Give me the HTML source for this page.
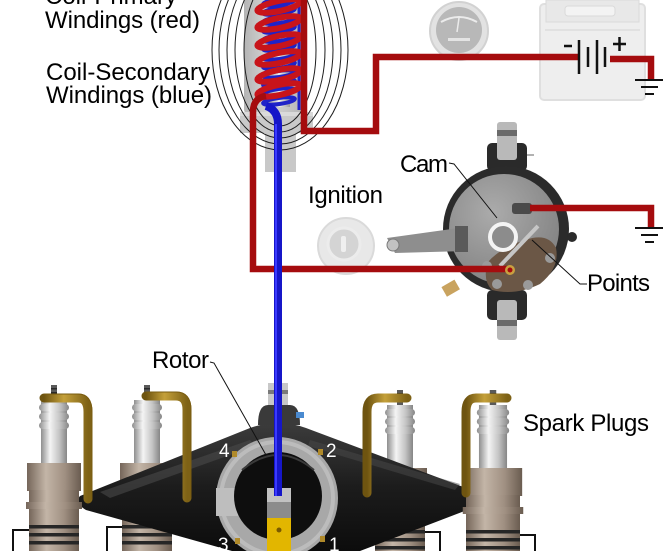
<!DOCTYPE html>
<html><head><meta charset="utf-8"><style>
html,body{margin:0;padding:0;background:#fff;}
svg{display:block;}
text{font-family:"Liberation Sans",Arial,sans-serif;}
</style></head><body>
<svg width="664" height="551" viewBox="0 0 664 551" xmlns="http://www.w3.org/2000/svg">
<defs>
<linearGradient id="insul" x1="0" x2="1" y1="0" y2="0">
<stop offset="0" stop-color="#8e8e8e"/><stop offset="0.35" stop-color="#f4f4f4"/><stop offset="0.7" stop-color="#c4c4c4"/><stop offset="1" stop-color="#868686"/></linearGradient>
<linearGradient id="brown" x1="0" x2="1" y1="0" y2="0">
<stop offset="0" stop-color="#75665a"/><stop offset="0.35" stop-color="#c3b5a7"/><stop offset="0.7" stop-color="#a09082"/><stop offset="1" stop-color="#6a5c50"/></linearGradient>
<linearGradient id="brass" x1="0" x2="1" y1="0" y2="0">
<stop offset="0" stop-color="#6e5410"/><stop offset="0.45" stop-color="#c4a03a"/><stop offset="1" stop-color="#7e6216"/></linearGradient>
<linearGradient id="cap" x1="0" x2="0" y1="0" y2="1">
<stop offset="0" stop-color="#3c3c3c"/><stop offset="0.5" stop-color="#1c1c1c"/><stop offset="1" stop-color="#0c0c0c"/></linearGradient>
<linearGradient id="coilg" x1="0" x2="1" y1="0" y2="0">
<stop offset="0" stop-color="#b4b4b4"/><stop offset="0.4" stop-color="#d6d6d6"/><stop offset="1" stop-color="#b4b4b4"/></linearGradient>
<linearGradient id="core" x1="0" x2="1" y1="0" y2="0">
<stop offset="0" stop-color="#9a9a9a"/><stop offset="0.5" stop-color="#eeeeee"/><stop offset="1" stop-color="#9a9a9a"/></linearGradient>
<radialGradient id="plate" cx="0.4" cy="0.35" r="0.7">
<stop offset="0" stop-color="#ababab"/><stop offset="1" stop-color="#828282"/></radialGradient>
<g id="plug">
<rect x="-3" y="0" width="6" height="16" fill="#5a5a5a"/>
<rect x="-3" y="3" width="6" height="1.5" fill="#2a2a2a"/><rect x="-3" y="7" width="6" height="1.5" fill="#2a2a2a"/><rect x="-3" y="11" width="6" height="1.5" fill="#2a2a2a"/>
<rect x="-13" y="15" width="26" height="64" fill="url(#insul)"/>
<rect x="-15" y="19" width="30" height="7" rx="3.5" fill="url(#insul)"/>
<rect x="-15" y="28" width="30" height="7" rx="3.5" fill="url(#insul)"/>
<rect x="-15" y="37" width="30" height="7" rx="3.5" fill="url(#insul)"/>
<rect x="-27" y="78" width="54" height="28" fill="url(#brown)"/>
<rect x="-25" y="105" width="50" height="31" fill="url(#brown)"/>
<rect x="-28" y="117" width="56" height="7" fill="url(#brown)"/>
<rect x="-25" y="135" width="50" height="35" fill="url(#brown)"/>
<rect x="-25" y="140" width="50" height="3.5" fill="#262626"/>
<rect x="-25" y="148" width="50" height="3.5" fill="#262626"/>
<rect x="-25" y="156" width="50" height="3.5" fill="#262626"/>
</g>
</defs>

<!-- faded battery -->
<g opacity="0.85">
<rect x="540" y="4" width="105" height="96" rx="4" fill="#ececec" stroke="#dadada" stroke-width="2"/>
<rect x="546" y="0" width="93" height="22" fill="#e4e4e4" stroke="#d4d4d4"/>
<rect x="565" y="6" width="50" height="10" rx="3" fill="#f2f2f2" stroke="#d4d4d4"/>
<line x1="545" y1="30" x2="640" y2="30" stroke="#dcdcdc" stroke-width="2"/>
</g>
<!-- faded ammeter -->
<circle cx="459" cy="31" r="29" fill="#e2e2e2" stroke="#d2d2d2" stroke-width="2"/>
<circle cx="459" cy="30" r="23" fill="#b8b8b8"/>
<path d="M441 22 Q459 12 477 22" fill="none" stroke="#ebebeb" stroke-width="2"/>
<line x1="459" y1="18" x2="457" y2="32" stroke="#ebebeb" stroke-width="1.5"/>
<rect x="448" y="38" width="22" height="3" fill="#e4e4e4"/>
<!-- faded ignition switch -->
<circle cx="346" cy="246" r="28" fill="#e8e8e8" stroke="#dadada" stroke-width="2"/>
<circle cx="344" cy="244" r="16" fill="#d4d4d4" stroke="#ececec" stroke-width="3"/>
<rect x="341" y="236" width="5" height="16" rx="2" fill="#efefef"/>

<!-- coil body -->
<rect x="244" y="-5" width="62" height="120" rx="6" fill="url(#coilg)"/>
<rect x="240" y="112" width="73" height="21" fill="#c9c9c9"/>
<rect x="240" y="112" width="73" height="4" fill="#dadada"/>
<rect x="265" y="132" width="31" height="40" fill="#c8c8c8"/>
<rect x="268" y="-5" width="22" height="112" fill="url(#core)"/>

<!-- field lines -->
<g fill="none" stroke="#1e1e1e" stroke-width="1">
<ellipse cx="280" cy="50" rx="68" ry="100"/>
<ellipse cx="280" cy="50" rx="61" ry="94"/>
<ellipse cx="280" cy="50" rx="53" ry="88"/>
<ellipse cx="280" cy="50" rx="45" ry="82"/>
<ellipse cx="280" cy="50" rx="36" ry="76"/>
</g>

<!-- blue secondary helix -->
<g fill="none" stroke="#1f22c8" stroke-width="4">
<ellipse cx="279" cy="2" rx="16" ry="3" transform="rotate(-8 279 2)"/>
<ellipse cx="279" cy="11" rx="16" ry="3" transform="rotate(-8 279 11)"/>
<ellipse cx="279" cy="20" rx="16" ry="3" transform="rotate(-8 279 20)"/>
<ellipse cx="279" cy="29" rx="16" ry="3" transform="rotate(-8 279 29)"/>
<ellipse cx="279" cy="38" rx="16" ry="3" transform="rotate(-8 279 38)"/>
<ellipse cx="279" cy="47" rx="16" ry="3" transform="rotate(-8 279 47)"/>
<ellipse cx="279" cy="56" rx="16" ry="3" transform="rotate(-8 279 56)"/>
<ellipse cx="279" cy="65" rx="16" ry="3" transform="rotate(-8 279 65)"/>
<ellipse cx="279" cy="74" rx="16" ry="3" transform="rotate(-8 279 74)"/>
<ellipse cx="279" cy="83" rx="16" ry="3" transform="rotate(-8 279 83)"/>
<ellipse cx="279" cy="92" rx="16" ry="3" transform="rotate(-8 279 92)"/>
<ellipse cx="279" cy="101" rx="16" ry="3" transform="rotate(-8 279 101)"/>
</g>
<line x1="299" y1="-2" x2="299" y2="110" stroke="#1f22c8" stroke-width="3"/>
<!-- red primary helix -->
<g fill="none" stroke="#c8141a" stroke-width="6">
<ellipse cx="279" cy="6" rx="22" ry="5" transform="rotate(-12 279 6)"/>
<ellipse cx="279" cy="23" rx="22" ry="5" transform="rotate(-12 279 23)"/>
<ellipse cx="279" cy="41" rx="22" ry="5" transform="rotate(-12 279 41)"/>
<ellipse cx="279" cy="58" rx="22" ry="5" transform="rotate(-12 279 58)"/>
<ellipse cx="279" cy="75" rx="22" ry="5" transform="rotate(-12 279 75)"/>
<ellipse cx="279" cy="90" rx="22" ry="5" transform="rotate(-12 279 90)"/>
</g>

<!-- points distributor (drawn before wires) -->
<rect x="487" y="143" width="40" height="28" rx="5" fill="#2a2a2a"/>
<rect x="497" y="122" width="20" height="38" rx="3" fill="#b9b9b9"/>
<rect x="497" y="130" width="20" height="6" fill="#6a6a6a"/>
<line x1="527" y1="155" x2="534" y2="155" stroke="#666" stroke-width="1"/>
<rect x="487" y="290" width="40" height="30" rx="5" fill="#2a2a2a"/>
<rect x="497" y="300" width="20" height="40" rx="3" fill="#b9b9b9"/>
<rect x="497" y="320" width="20" height="6" fill="#6a6a6a"/>
<circle cx="506" cy="229" r="63" fill="#2b2b2b"/>
<circle cx="572" cy="237" r="5" fill="#2b2b2b"/>
<circle cx="504" cy="229" r="55" fill="url(#plate)"/>
<path d="M488 262 Q500 248 525 240 Q548 232 556 248 Q560 268 540 284 Q515 296 492 290 Q482 280 488 262Z" fill="#6b5746"/>
<circle cx="497" cy="284" r="5" fill="#9a9a9a"/><circle cx="528" cy="285" r="5" fill="#9a9a9a"/><circle cx="550" cy="258" r="5" fill="#9a9a9a"/><circle cx="487" cy="266" r="5" fill="#9a9a9a"/>
<polygon points="387,238 466,227 466,251 395,253" fill="#8e8e8e"/>
<rect x="455" y="226" width="13" height="26" fill="#5a5a5a"/>
<circle cx="393" cy="245" r="6" fill="#c2c2c2" stroke="#7a7a7a"/>
<line x1="500" y1="266" x2="538" y2="226" stroke="#c6c6c6" stroke-width="4"/>
<rect x="512" y="203" width="20" height="11" rx="3" fill="#4a4a4a"/>
<circle cx="503" cy="237" r="13" fill="#8c8c8c" stroke="#f4f4f4" stroke-width="4"/>
<rect x="443" y="283" width="15" height="11" transform="rotate(-30 450 288)" fill="#c9a35f"/>

<!-- red wires -->
<g fill="none" stroke="#a50c0e" stroke-width="6.5" stroke-linejoin="miter">
<path d="M266 96 Q253 98 253 112 V269 H510"/>
<path d="M304 -3 V131 H376 V57 H578"/>
<path d="M610 59 H651 V79"/>
<path d="M530 208 H651 V227"/>
</g>
<circle cx="510" cy="270" r="5" fill="#c9a040"/>
<circle cx="510" cy="270" r="2.5" fill="#a50c0e"/>

<!-- battery symbol -->
<g stroke="#111" stroke-width="2.5">
<line x1="579" y1="40" x2="579" y2="74"/>
<line x1="588" y1="47" x2="588" y2="67"/>
<line x1="597" y1="40" x2="597" y2="74"/>
<line x1="605" y1="47" x2="605" y2="67"/>
<line x1="564" y1="46" x2="572" y2="46"/>
<line x1="613" y1="44" x2="626" y2="44"/>
<line x1="619.5" y1="37" x2="619.5" y2="51"/>
</g>
<!-- grounds -->
<g stroke="#111" stroke-width="2">
<line x1="635" y1="80" x2="663" y2="80"/><line x1="641" y1="87" x2="658" y2="87"/><line x1="645" y1="94" x2="654" y2="94"/>
<line x1="635" y1="228" x2="663" y2="228"/><line x1="641" y1="235" x2="658" y2="235"/><line x1="645" y1="242" x2="654" y2="242"/>
</g>

<!-- spark plugs behind cap -->
<use href="#plug" transform="translate(147,385)"/>
<use href="#plug" transform="translate(400,390)"/>

<!-- distributor cap -->
<path d="M80 496 L250 428 Q278 418 306 428 L474 491 Q484 499 475 507 L360 551 L232 551 L86 510 Q74 503 80 496Z" fill="url(#cap)"/>
<path d="M100 492 L250 440 L255 446 L110 498Z" fill="#4a4a4a" opacity="0.6"/>
<path d="M310 440 L460 484 L455 490 L308 446Z" fill="#4a4a4a" opacity="0.5"/>
<!-- top knob -->
<rect x="268" y="383" width="20" height="25" fill="#c8c8c8"/>
<rect x="268" y="390" width="20" height="4" fill="#7a7a7a"/>
<path d="M258 425 Q258 405 268 405 H290 Q300 405 300 425Z" fill="#3a3a3a"/>
<rect x="296" y="412" width="8" height="6" fill="#4a8ad0"/>
<!-- ring -->
<circle cx="277" cy="498" r="61" fill="#a8a8a8"/>
<circle cx="277" cy="498" r="56" fill="none" stroke="#bcbcbc" stroke-width="4"/>
<rect x="216" y="488" width="22" height="28" fill="#bebebe"/>
<circle cx="278" cy="496" r="44" fill="#0e0e0e"/>
<path d="M242 470 Q278 440 314 470" fill="none" stroke="#3a3a3a" stroke-width="2"/>
<g fill="#b08a2a">
<rect x="232" y="451" width="5" height="6"/><rect x="318" y="449" width="5" height="6"/>
<rect x="235" y="538" width="5" height="6"/><rect x="320" y="536" width="5" height="6"/>
</g>
<!-- rotor -->
<rect x="267" y="488" width="24" height="32" fill="#c2c2c2"/>
<rect x="267" y="502" width="24" height="16" fill="#8c8c8c"/>
<rect x="267" y="518" width="24" height="33" fill="#e2b600"/>
<circle cx="279" cy="530" r="2.5" fill="#7a5a00"/>
<!-- numbers -->
<g fill="#fff" font-size="19">
<text x="219" y="457">4</text>
<text x="326" y="457">2</text>
<text x="218" y="551">3</text>
<text x="329" y="551">1</text>
</g>

<!-- front plugs -->
<use href="#plug" transform="translate(54,385)"/>
<use href="#plug" transform="translate(493,390) scale(1.08,1)"/>

<!-- brackets -->
<g fill="none" stroke="url(#brass)" stroke-width="9" stroke-linecap="round">
<path d="M44 398 H78 Q88 398 88 412 V499"/>
<path d="M146 396 H176 Q187 396 187 410 V498"/>
<path d="M407 398 H378 Q367 398 367 412 V493"/>
<path d="M507 398 H476 Q466 398 466 412 V493"/>
</g>
<g fill="none" stroke="#7a5c10" stroke-width="1">
<path d="M44 394 H78 Q92 394 92 412 V499"/>
<path d="M146 392 H176 Q191 392 191 410 V498"/>
</g>

<!-- plug wires -->
<g fill="none" stroke="#111" stroke-width="2">
<path d="M13 551 V530 H29"/>
<path d="M107 551 V527 H122"/>
<path d="M440 551 V532 H425"/>
<path d="M535 551 V535 H520"/>
</g>

<!-- blue secondary wire -->
<path d="M266 106 Q278 110 278 124 V496" fill="none" stroke="#1616c8" stroke-width="8"/>
<line x1="276" y1="124" x2="276" y2="496" stroke="#3a3aff" stroke-width="2"/>

<!-- leader lines -->
<g fill="none" stroke="#111" stroke-width="1">
<path d="M210 362 L214 363 L266 455"/>
<path d="M449 163 L454 164 L497 218"/>
<path d="M587 284 L580 284 L532 240"/>
</g>

<!-- labels -->
<g fill="#000" font-size="24">
<text x="45" y="4" textLength="132">Coil-Primary</text>
<text x="45" y="28" textLength="155">Windings (red)</text>
<text x="46" y="80" textLength="164">Coil-Secondary</text>
<text x="46" y="103" textLength="166">Windings (blue)</text>
<text x="308" y="203" textLength="75">Ignition</text>
<text x="400" y="172" textLength="48">Cam</text>
<text x="587" y="291" textLength="63">Points</text>
<text x="152" y="368" textLength="57">Rotor</text>
<text x="523" y="431" textLength="126">Spark Plugs</text>
</g>
</svg>
</body></html>
